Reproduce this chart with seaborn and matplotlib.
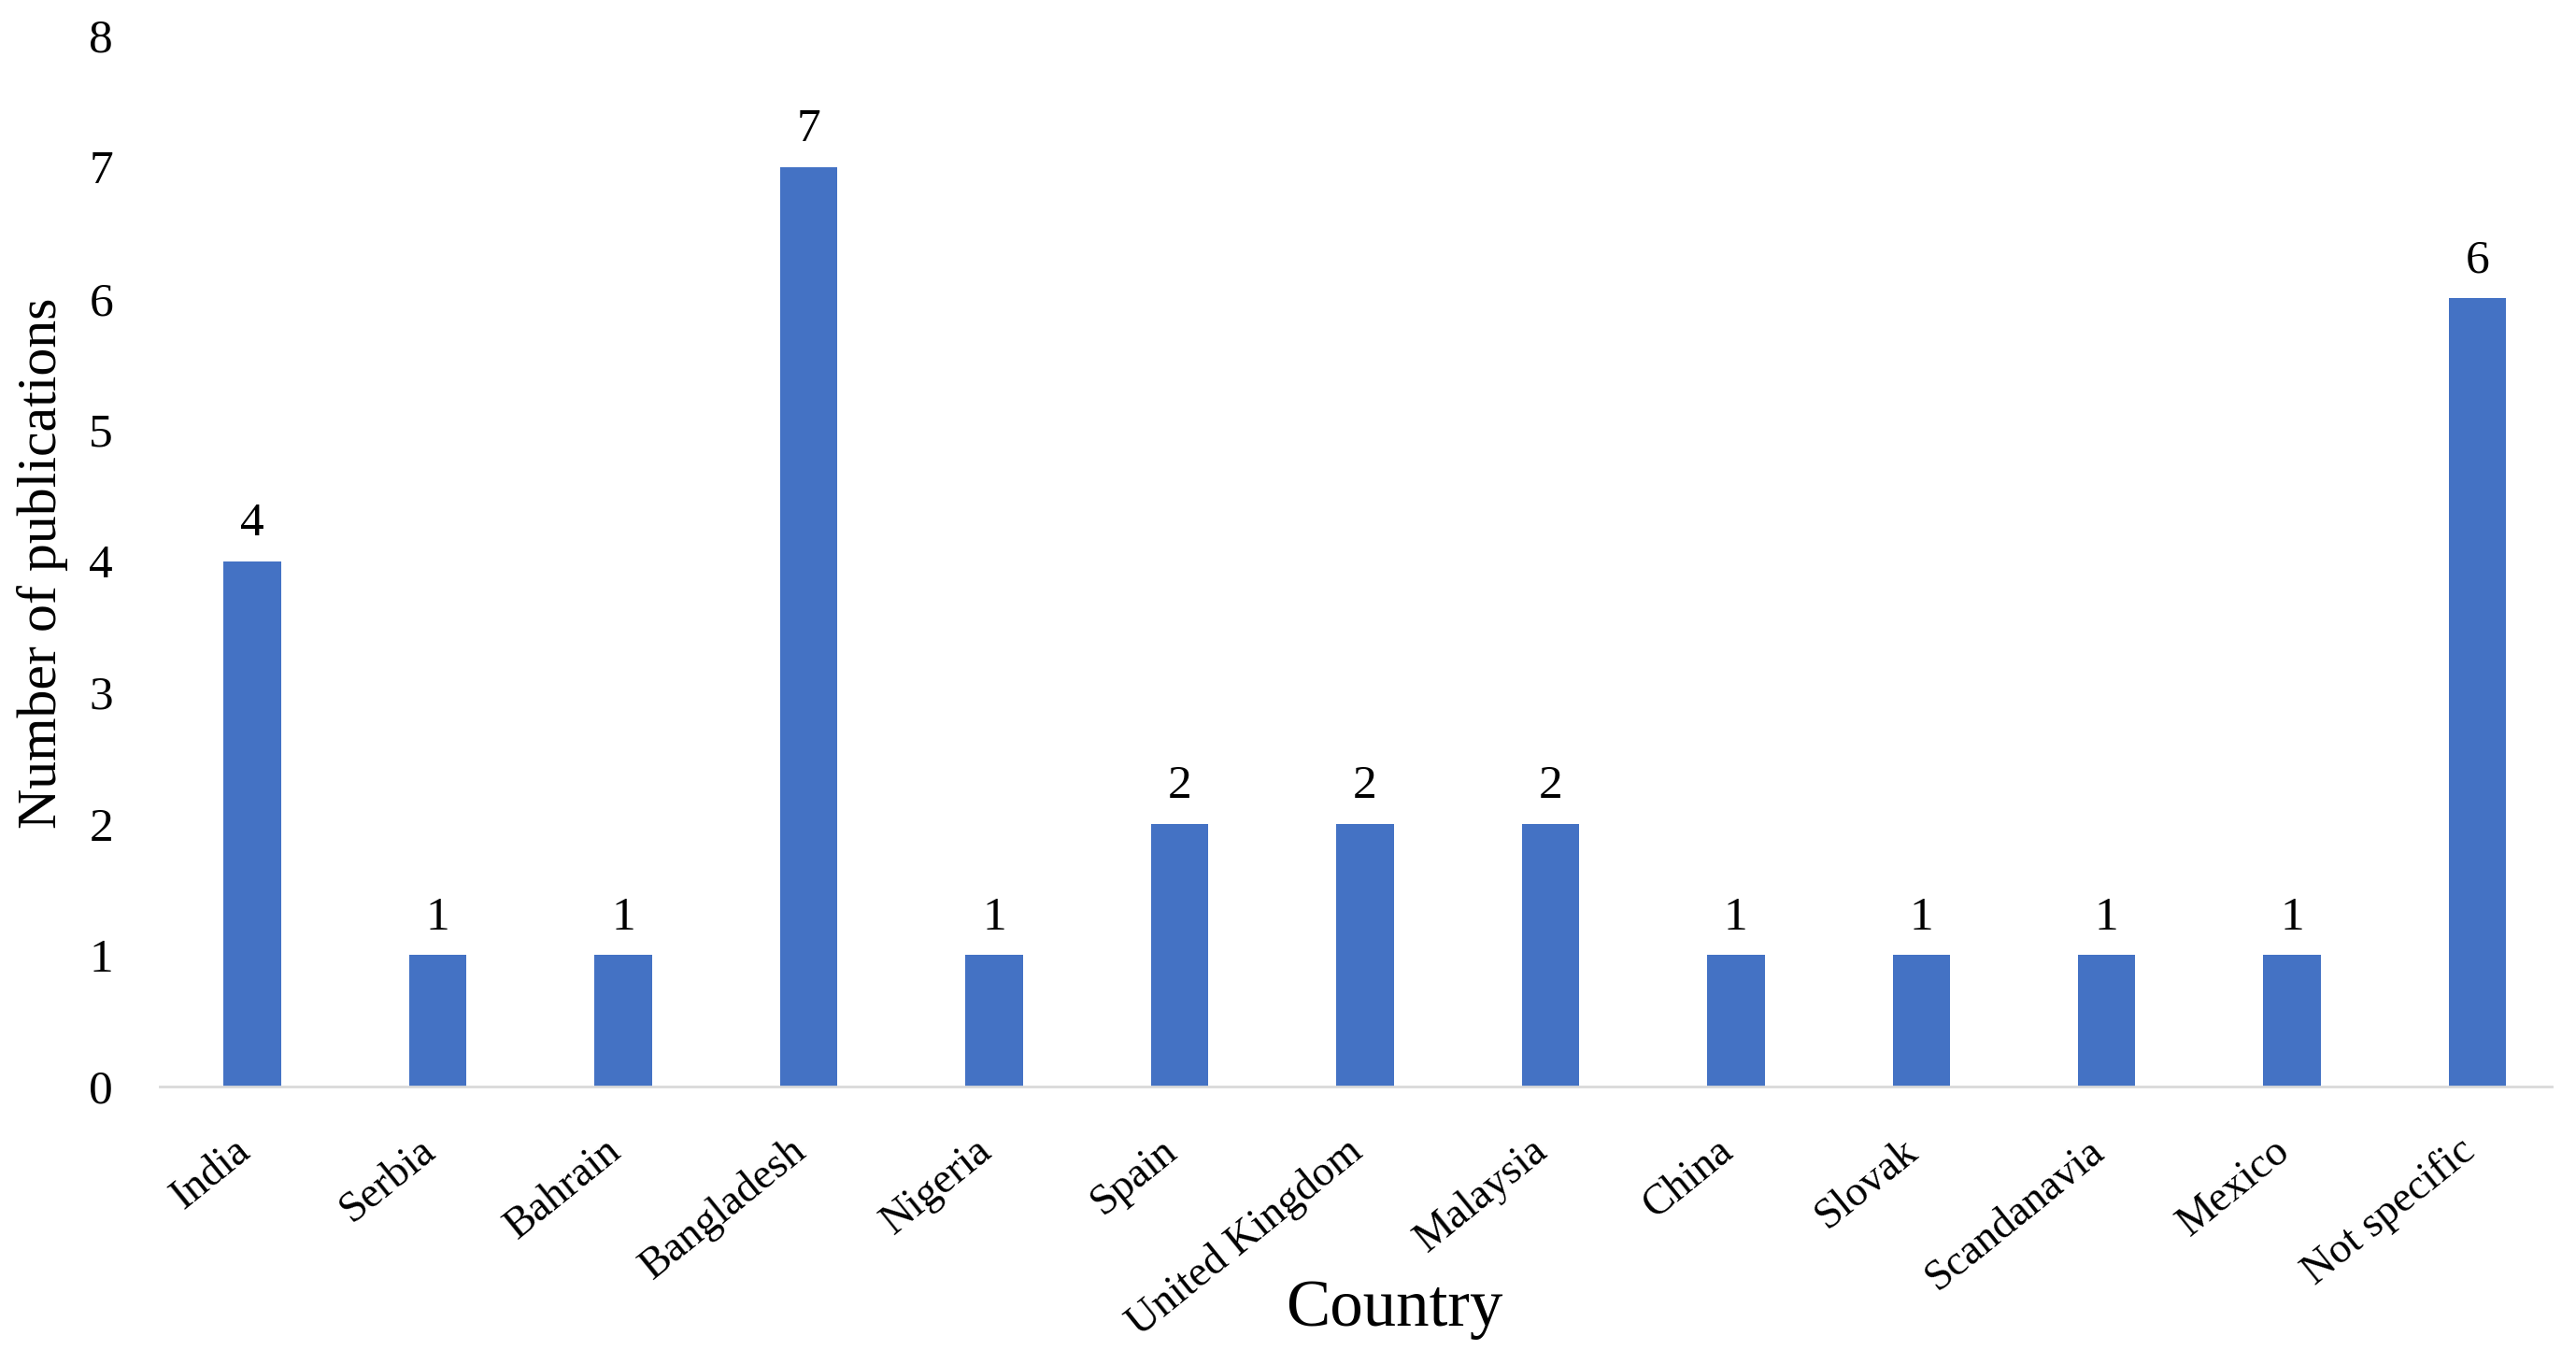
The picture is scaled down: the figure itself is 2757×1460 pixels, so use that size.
import matplotlib
matplotlib.use("Agg")
import matplotlib.pyplot as plt
import matplotlib.transforms as mtransforms
import seaborn as sns
import pandas as pd

countries = ["India", "Serbia", "Bahrain", "Bangladesh", "Nigeria", "Spain",
             "United Kingdom", "Malaysia", "China", "Slovak", "Scandanavia",
             "Mexico", "Not specific"]
publications = [4, 1, 1, 7, 1, 2, 2, 2, 1, 1, 1, 1, 6]
y_ticks = [0, 1, 2, 3, 4, 5, 6, 7, 8]

df = pd.DataFrame({"Country": countries, "Number of publications": publications})

sns.set_theme(style="white")
plt.rcParams["font.family"] = ["Liberation Serif", "DejaVu Serif"]
plt.rcParams["text.color"] = "black"
plt.rcParams["axes.labelcolor"] = "black"
plt.rcParams["xtick.color"] = "black"
plt.rcParams["ytick.color"] = "black"

W, H, DPI = 2757, 1460, 100
fig = plt.figure(figsize=(W / DPI, H / DPI), dpi=DPI)
left, right, top, bottom = 171, 2731, 38, 1163
ax = fig.add_axes([left / W, 1 - bottom / H, (right - left) / W, (bottom - top) / H])

sns.barplot(data=df, x="Country", y="Number of publications", color="#4472C4",
            width=0.31, saturation=1, ax=ax, edgecolor="none")

ax.set_ylim(0, 8)
ax.set_xlim(-0.5, 12.4)
ax.set_yticks(y_ticks)
ax.tick_params(axis="y", length=0, pad=36, labelsize=37, labelcolor="black")
ax.tick_params(axis="x", length=0, pad=46, labelsize=33, labelcolor="black")
shift = mtransforms.ScaledTranslation(-8 / DPI, 0, fig.dpi_scale_trans)
for lab in ax.get_xticklabels():
    lab.set_rotation(39)
    lab.set_ha("right")
    lab.set_va("center")
    lab.set_rotation_mode("anchor")
    lab.set_transform(lab.get_transform() + shift)

for s in ["top", "right", "left"]:
    ax.spines[s].set_visible(False)
ax.spines["bottom"].set_color("#D9D9D9")
ax.spines["bottom"].set_linewidth(2)
ax.grid(False)

ax.bar_label(ax.containers[0], fmt="%d", padding=12, fontsize=37, color="black")

ax.set_xlabel("Country", fontsize=51, va="center", color="black")
ax.xaxis.set_label_coords((1492 - left) / (right - left), (bottom - 1402) / (bottom - top))
ax.set_ylabel("Number of publications", fontsize=43, va="center", color="black")
ax.yaxis.set_label_coords((46 - left) / (right - left), (bottom - 603) / (bottom - top))

fig.savefig("out.png", dpi=DPI)
